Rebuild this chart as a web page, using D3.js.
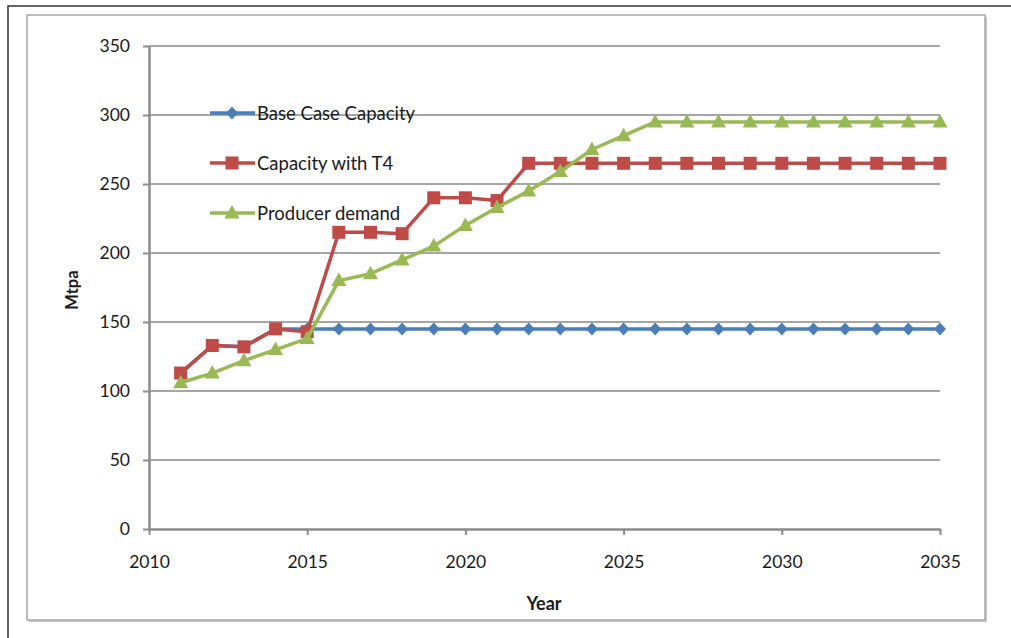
<!DOCTYPE html>
<html><head><meta charset="utf-8">
<script src="https://cdn.jsdelivr.net/npm/d3@7"></script>
<style>body{margin:0;background:#fff}svg{display:block}text{font-family:Lato,"Open Sans",sans-serif;fill:#1a1a1a}</style>
</head><body>
<script>
const years = d3.range(2011, 2036);
const baseCase = [113,133,132,145,145,145,145,145,145,145,145,145,145,145,145,145,145,145,145,145,145,145,145,145,145];
const withT4 = [113,133,132,145,143,215,215,214,240,240,238,265,265,265,265,265,265,265,265,265,265,265,265,265,265];
const demand = [106,113,122,130,138,180,185,195,205,220,233,245,259,275,285,295,295,295,295,295,295,295,295,295,295];
const xTicks = [2010,2015,2020,2025,2030,2035];
const yTicks = [0,50,100,150,200,250,300,350];
const seriesNames = ["Base Case Capacity","Capacity with T4","Producer demand"];
const colors = ["#4A7EBB","#BE4B48","#98B954"];

const W=1011,H=638;
const svg=d3.select("body").append("svg").attr("width",W).attr("height",H);
// outer frame
svg.append("rect").attr("x",8).attr("y",6).attr("width",1020).attr("height",650).attr("fill","none").attr("stroke","#333").attr("stroke-width",1.5);
// inner chart box with shadow
svg.append("rect").attr("x",29).attr("y",17).attr("width",958).attr("height",605).attr("fill","#c8c8c8");
svg.append("rect").attr("x",27).attr("y",15).attr("width",958).attr("height",605).attr("fill","#fff").attr("stroke","#a8a8a8").attr("stroke-width",1.5);

const x=d3.scaleLinear().domain([2010,2035]).range([149,940]);
const y=d3.scaleLinear().domain([0,350]).range([529,46]);

// gridlines
svg.append("g").selectAll("line").data(yTicks.filter(d=>d>0)).join("line")
  .attr("x1",149).attr("x2",940).attr("y1",d=>y(d)).attr("y2",d=>y(d))
  .attr("stroke","#a6a6a6").attr("stroke-width",2);

// y axis
const ya=svg.append("g").attr("transform","translate(149,0)")
  .call(d3.axisLeft(y).tickValues(yTicks).tickSize(6).tickPadding(13).tickSizeOuter(0));
ya.select(".domain").attr("stroke","#8c8c8c").attr("stroke-width",2.5);
ya.selectAll(".tick line").attr("stroke","#8c8c8c").attr("stroke-width",2);
ya.selectAll("text").attr("font-size",17.5).attr("font-family","Lato").attr("fill","#1a1a1a");

// x axis
const xa=svg.append("g").attr("transform","translate(0,529)")
  .call(d3.axisBottom(x).tickValues(xTicks).tickFormat(d3.format("d")).tickSize(6).tickPadding(21).tickSizeOuter(0));
xa.select(".domain").attr("stroke","#8c8c8c").attr("stroke-width",2.5);
xa.selectAll(".tick line").attr("stroke","#8c8c8c").attr("stroke-width",2);
xa.selectAll("text").attr("font-size",17.5).attr("font-family","Lato").attr("fill","#1a1a1a");

// axis titles
svg.append("text").attr("transform","translate(78,290) rotate(-90)").attr("text-anchor","middle")
  .attr("font-size",16.5).attr("font-weight","bold").text("Mtpa");
svg.append("text").attr("x",544).attr("y",610).attr("text-anchor","middle")
  .attr("font-size",18).attr("font-weight","bold").text("Year");

const data=[baseCase,withT4,demand];
const line=d3.line().x((d,i)=>x(years[i])).y(d=>y(d));
function marker(g,k,cx,cy){
  if(k===0){
    g.append("path").attr("d",`M${cx},${cy-6.5}L${cx+6},${cy}L${cx},${cy+6.5}L${cx-6},${cy}Z`).attr("fill",colors[k]);
  } else if(k===1){
    g.append("rect").attr("x",cx-6.5).attr("y",cy-6.5).attr("width",13).attr("height",13).attr("fill",colors[k]);
  } else {
    g.append("path").attr("d",`M${cx},${cy-8}L${cx+7.5},${cy+5.5}L${cx-7.5},${cy+5.5}Z`).attr("fill",colors[k]);
  }
}
data.forEach((vals,k)=>{
  const g=svg.append("g");
  g.append("path").datum(vals).attr("d",line).attr("fill","none").attr("stroke",colors[k]).attr("stroke-width",3.5).attr("stroke-linejoin","round");
  vals.forEach((v,i)=>marker(g,k,x(years[i]),y(v)));
});

// legend
seriesNames.forEach((n,k)=>{
  const ly=113+k*50;
  const g=svg.append("g");
  g.append("line").attr("x1",210).attr("x2",255).attr("y1",ly).attr("y2",ly).attr("stroke",colors[k]).attr("stroke-width",3.5);
  marker(g,k,232,ly);
  g.append("text").attr("x",257).attr("y",ly+6.5).attr("font-size",18.5).text(n);
});
</script>
</body></html>
